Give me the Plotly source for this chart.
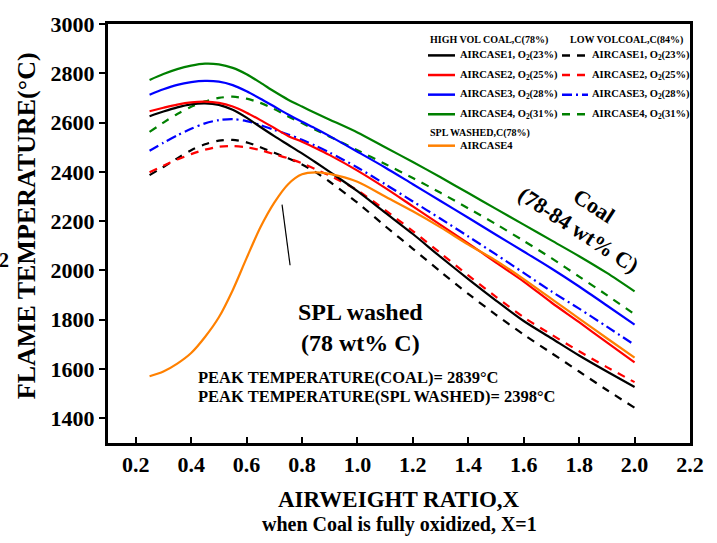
import plotly.graph_objects as go

# Air weight ratio X (shared by every curve)
x_ratio = [0.25, 0.3, 0.35, 0.4, 0.45, 0.5, 0.55, 0.6, 0.65, 0.7, 0.75, 0.8, 0.85,
           0.9, 1.0, 1.1, 1.2, 1.3, 1.4, 1.5, 1.6, 1.7, 1.8, 1.9, 2.0]

# High volatile coal, C(78%) - flame temperature (°C)
hv_case1 = [2626, 2645, 2662, 2674, 2678, 2672, 2652, 2620, 2582, 2545, 2510, 2475, 2438,
            2400, 2322, 2235, 2148, 2055, 1965, 1878, 1795, 1725, 1655, 1590, 1527]
hv_case2 = [2646, 2660, 2673, 2682, 2685, 2680, 2665, 2640, 2610, 2578, 2546, 2522, 2496,
            2468, 2405, 2335, 2260, 2185, 2110, 2032, 1955, 1870, 1790, 1708, 1627]
hv_case3 = [2713, 2735, 2753, 2764, 2769, 2766, 2752, 2727, 2697, 2665, 2633, 2603, 2575,
            2545, 2482, 2418, 2350, 2282, 2214, 2145, 2077, 2008, 1935, 1858, 1780]
hv_case4 = [2773, 2797, 2817, 2831, 2839, 2836, 2822, 2796, 2762, 2726, 2693, 2665, 2638,
            2612, 2560, 2500, 2440, 2378, 2314, 2250, 2186, 2122, 2058, 1990, 1915]

# Low volatile coal, C(84%)
lv_case1 = [2387, 2420, 2455, 2488, 2512, 2527, 2530, 2520, 2500, 2478, 2455, 2430, 2398,
            2360, 2275, 2180, 2088, 1995, 1905, 1820, 1740, 1665, 1590, 1515, 1443]
lv_case2 = [2399, 2425, 2450, 2472, 2490, 2502, 2505, 2500, 2488, 2472, 2455, 2435, 2410,
            2385, 2325, 2245, 2160, 2070, 1980, 1893, 1810, 1740, 1672, 1608, 1547]
lv_case3 = [2486, 2518, 2548, 2575, 2597, 2610, 2614, 2606, 2590, 2570, 2552, 2530, 2505,
            2478, 2418, 2350, 2280, 2210, 2138, 2065, 1990, 1915, 1845, 1772, 1698]
lv_case4 = [2562, 2600, 2635, 2664, 2686, 2700, 2705, 2697, 2680, 2655, 2625, 2598, 2570,
            2543, 2488, 2432, 2375, 2315, 2252, 2188, 2120, 2050, 1975, 1900, 1822]

# SPL washed, C(78%), air case 4
spl_case4 = [1571, 1590, 1622, 1665, 1730, 1810, 1920, 2050, 2175, 2275, 2350, 2390, 2398,
             2392, 2360, 2300, 2240, 2175, 2105, 2040, 1965, 1885, 1805, 1725, 1646]

case_labels = ["AIRCASE1, O<sub>2</sub>(23%)", "AIRCASE2, O<sub>2</sub>(25%)",
               "AIRCASE3, O<sub>2</sub>(28%)", "AIRCASE4, O<sub>2</sub>(31%)"]
case_colors = ["#000000", "#ff0000", "#0000ff", "#008000"]
lv_dashes = ["8px,7px", "8px,7px", "10px,4px,2px,4px", "8px,7px"]
spl_color = "#ff8000"

peak_coal = 2839
peak_spl = 2398

x_ticks = [0.2, 0.4, 0.6, 0.8, 1.0, 1.2, 1.4, 1.6, 1.8, 2.0, 2.2]
y_ticks = [1400, 1600, 1800, 2000, 2200, 2400, 2600, 2800, 3000]

SERIF = "Liberation Serif"
W, H = 717, 543
ML, MR, MT, MB = 108, 27, 16, 100
PW, PH = W - ML - MR, H - MT - MB


def fx(px):
    return (px - ML) / PW


def fy(py):
    return (H - MB - py) / PH


fig = go.Figure()

hv_series = [hv_case1, hv_case2, hv_case3, hv_case4]
lv_series = [lv_case1, lv_case2, lv_case3, lv_case4]

for vals, color, dash in zip(lv_series, case_colors, lv_dashes):
    fig.add_trace(go.Scatter(x=x_ratio, y=vals, mode="lines",
                             line=dict(color=color, width=2.2, dash=dash,
                                       shape="spline", smoothing=0.8)))
for vals, color in zip(hv_series, case_colors):
    fig.add_trace(go.Scatter(x=x_ratio, y=vals, mode="lines",
                             line=dict(color=color, width=2.2,
                                       shape="spline", smoothing=0.8)))
fig.add_trace(go.Scatter(x=x_ratio, y=spl_case4, mode="lines",
                         line=dict(color=spl_color, width=2.2,
                                   shape="spline", smoothing=0.8)))

annotations = []
shapes = []

# Hand-built two-column legend
legend_font = dict(family=SERIF, size=10.5, color="black")
header_font = dict(family=SERIF, size=10, color="black")
annotations.append(dict(xref="paper", yref="paper", x=fx(428), y=fy(32),
                        xanchor="left", yanchor="middle", showarrow=False,
                        text="<b>HIGH VOL COAL,C(78%)</b>", font=header_font))
annotations.append(dict(xref="paper", yref="paper", x=fx(568), y=fy(32),
                        xanchor="left", yanchor="middle", showarrow=False,
                        text="<b>LOW VOLCOAL,C(84%)</b>", font=header_font))
row_y = [48, 68, 88, 108]
for label, color, dash, ry in zip(case_labels, case_colors, lv_dashes, row_y):
    shapes.append(dict(type="line", xref="paper", yref="paper",
                       x0=fx(428), x1=fx(455), y0=fy(ry), y1=fy(ry),
                       line=dict(color=color, width=2.5)))
    annotations.append(dict(xref="paper", yref="paper", x=fx(458), y=fy(ry),
                            xanchor="left", yanchor="middle", showarrow=False,
                            text="<b>" + label + "</b>", font=legend_font))
    shapes.append(dict(type="line", xref="paper", yref="paper",
                       x0=fx(562), x1=fx(588), y0=fy(ry), y1=fy(ry),
                       line=dict(color=color, width=2.5, dash=dash)))
    annotations.append(dict(xref="paper", yref="paper", x=fx(590), y=fy(ry),
                            xanchor="left", yanchor="middle", showarrow=False,
                            text="<b>" + label + "</b>", font=legend_font))
annotations.append(dict(xref="paper", yref="paper", x=fx(428), y=fy(127),
                        xanchor="left", yanchor="middle", showarrow=False,
                        text="<b>SPL WASHED,C(78%)</b>", font=header_font))
shapes.append(dict(type="line", xref="paper", yref="paper",
                   x0=fx(428), x1=fx(455), y0=fy(140), y1=fy(140),
                   line=dict(color=spl_color, width=2.5)))
annotations.append(dict(xref="paper", yref="paper", x=fx(458), y=fy(140),
                        xanchor="left", yanchor="middle", showarrow=False,
                        text="<b>AIRCASE4</b>", font=legend_font))

# Curve group labels
annotations.append(dict(xref="paper", yref="paper", x=fx(586), y=fy(214),
                        xanchor="center", yanchor="middle", showarrow=False,
                        textangle=33, text="<b>Coal<br>(78-84 wt% C)</b>",
                        font=dict(family=SERIF, size=22, color="black")))
annotations.append(dict(xref="paper", yref="paper", x=fx(360), y=fy(325),
                        xanchor="center", yanchor="middle", showarrow=False,
                        text="<b>SPL washed<br>(78 wt% C)</b>",
                        font=dict(family=SERIF, size=24, color="black")))
shapes.append(dict(type="line", xref="x", yref="y", x0=0.728, y0=2267,
                   x1=0.757, y1=2021, line=dict(color="black", width=1.2)))

# Peak temperature notes
peak_font = dict(family=SERIF, size=16.5, color="black")
annotations.append(dict(xref="paper", yref="paper", x=fx(196), y=fy(376),
                        xanchor="left", yanchor="middle", showarrow=False,
                        text="<b>PEAK TEMPERATURE(COAL)= %d°C</b>" % peak_coal,
                        font=peak_font))
annotations.append(dict(xref="paper", yref="paper", x=fx(196), y=fy(396),
                        xanchor="left", yanchor="middle", showarrow=False,
                        text="<b>PEAK TEMPERATURE(SPL WASHED)= %d°C</b>" % peak_spl,
                        font=peak_font))

# Axis titles
annotations.append(dict(xref="paper", yref="paper", x=fx(26), y=fy(222),
                        xanchor="center", yanchor="middle", showarrow=False,
                        textangle=-90, text="<b>FLAME TEMPERATURE(°C)</b>",
                        font=dict(family=SERIF, size=26, color="black")))
annotations.append(dict(xref="paper", yref="paper", x=fx(11), y=fy(257),
                        xanchor="right", yanchor="middle", showarrow=False,
                        text="<b>2</b>", font=dict(family=SERIF, size=20, color="black")))
annotations.append(dict(xref="paper", yref="paper", x=0.5, y=fy(501),
                        xanchor="center", yanchor="middle", showarrow=False,
                        text="<b>AIRWEIGHT RATIO,X</b>",
                        font=dict(family=SERIF, size=23, color="black")))
annotations.append(dict(xref="paper", yref="paper", x=0.5, y=fy(526),
                        xanchor="center", yanchor="middle", showarrow=False,
                        text="<b>when Coal is fully oxidized, X=1</b>",
                        font=dict(family=SERIF, size=20, color="black")))

fig.update_layout(
    width=W, height=H,
    margin=dict(l=ML, r=MR, t=MT, b=MB),
    paper_bgcolor="white", plot_bgcolor="white",
    showlegend=False,
    annotations=annotations,
    shapes=shapes,
    xaxis=dict(range=[0.1, 2.2], tickvals=x_ticks,
               ticktext=["%.1f" % v for v in x_ticks],
               ticks="inside", ticklen=6, tickwidth=2, tickcolor="black",
               showline=True, linewidth=3, linecolor="black", mirror=True,
               showgrid=False, zeroline=False,
               tickfont=dict(family=SERIF, size=22, color="black", weight="bold")),
    yaxis=dict(range=[1300, 3000], tickvals=y_ticks,
               ticks="outside", ticklen=6, tickwidth=2, tickcolor="black",
               showline=True, linewidth=3, linecolor="black", mirror=True,
               showgrid=False, zeroline=False,
               tickfont=dict(family=SERIF, size=22, color="black", weight="bold")),
)

fig.write_html("out.html")
